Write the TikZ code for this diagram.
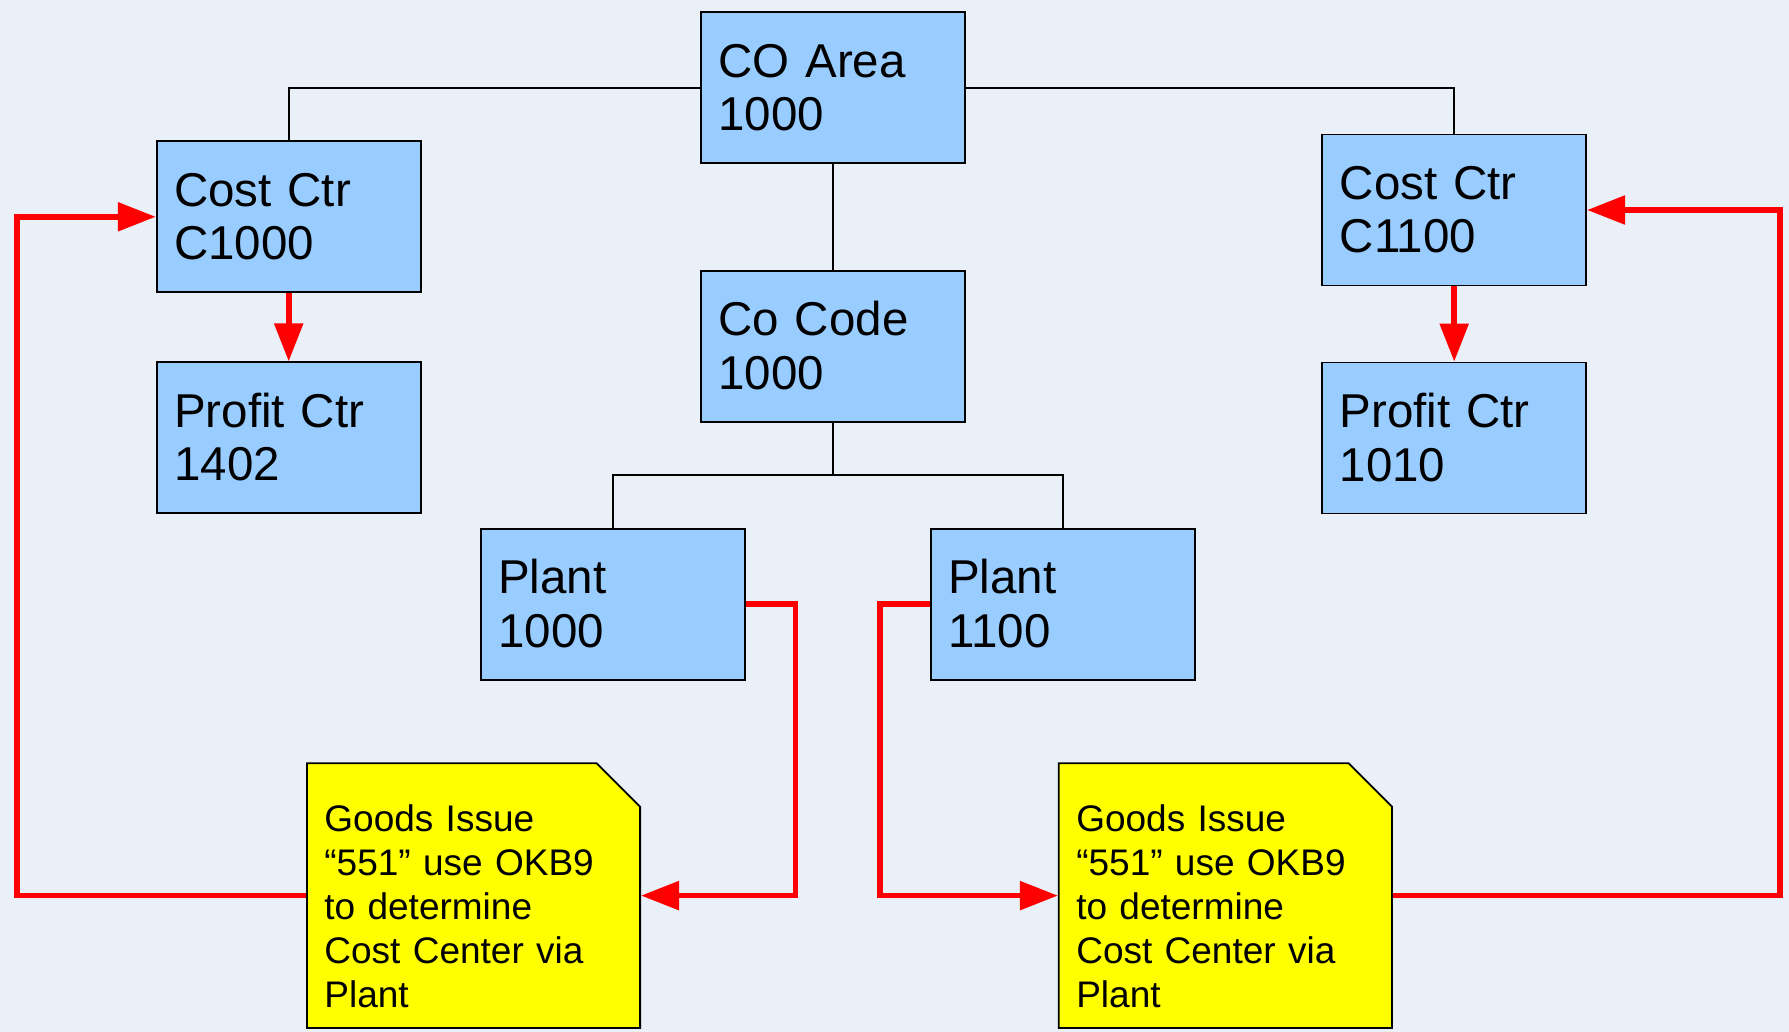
\documentclass[tikz,border=0pt]{standalone}
\usepackage{fontspec}
\setmainfont{Liberation Sans}
\usetikzlibrary{positioning,arrows.meta,shapes.misc}
\definecolor{bgblue}{RGB}{233,240,247}
\definecolor{boxblue}{RGB}{153,204,255}
\definecolor{noteyellow}{RGB}{255,255,0}
\definecolor{flowred}{RGB}{255,0,0}
\begin{document}
\begin{tikzpicture}[x=1pt, y=-1pt,
	box/.style={rectangle, draw, line width=1.8pt, fill=boxblue,
		inner xsep=17.5pt, inner ysep=0pt, text width=229pt,
		text height=64.8pt, text depth=86.2pt, align=left,
		font=\fontsize{47.5pt}{53.7pt}\selectfont},
	note/.style={chamfered rectangle, chamfered rectangle corners=north east,
		chamfered rectangle xsep=43.4pt, chamfered rectangle ysep=0pt,
		chamfered rectangle angle=45,
		draw, line width=1.8pt, fill=noteyellow,
		inner xsep=-25.9pt, inner ysep=0pt, text width=298.2pt,
		text height=68.7pt, text depth=196pt, align=left,
		font=\fontsize{37pt}{44pt}\selectfont},
	link/.style={line width=1.8pt},
	flow/.style={flowred, line width=5.6pt, -{Triangle[length=38pt,width=28pt]}}]
	%background
	\fill[bgblue] (0,0) rectangle (1789,1032);
	\useasboundingbox (0,0) rectangle (1789,1032);

	%org units
	\node[box] (coarea) at (832.9, 87.9) {CO Area\\1000};
	\node[box, below=105.7pt of coarea] (cocode) {Co Code\\1000};
	\node[box] (costA) at (288.7, 216.8) {Cost Ctr\\C1000};
	\node[box, below=68.2pt of costA] (profA) {Profit Ctr\\1402};
	\node[box] (costB) at (1454.2, 210) {Cost Ctr\\C1100};
	\node[box, below=75.2pt of costB] (profB) {Profit Ctr\\1010};
	\node[box] (plantA) at (612.8, 604.2) {Plant\\1000};
	\node[box] (plantB) at (1062.8, 604.2) {Plant\\1100};

	%goods issue notes
	\node[note] (noteA) at (473.5, 895.6) {Goods Issue\\“551” use OKB9\\to determine\\Cost Center via\\Plant};
	\node[note] (noteB) at (1225.4, 895.6) {Goods Issue\\“551” use OKB9\\to determine\\Cost Center via\\Plant};

	%hierarchy
	\draw[link] (coarea.west) -| (costA.north);
	\draw[link] (coarea.east) -| (costB.north);
	\draw[link] (coarea.south) -- (cocode.north);
	\coordinate[below=52.4pt of cocode] (split);
	\draw[link] (cocode.south) -- (split);
	\draw[link] (plantA.north) |- (split) -| (plantB.north);

	%cost center determination
	\coordinate (turnA) at (795.3, 604.2);
	\coordinate (turnB) at (879.7, 604.2);
	\coordinate (loopA) at (17, 895.6);
	\coordinate (loopB) at (1780, 895.6);
	\draw[flow] (costA) -- (profA);
	\draw[flow] (costB) -- (profB);
	\draw[flow] (plantA.east) -- (turnA) |- (noteA.east);
	\draw[flow] (noteA.west) -- (loopA) |- (costA.west);
	\draw[flow] (plantB.west) -- (turnB) |- (noteB.west);
	\draw[flow] (noteB.east) -- (loopB) |- (costB.east);
\end{tikzpicture}
\end{document}
